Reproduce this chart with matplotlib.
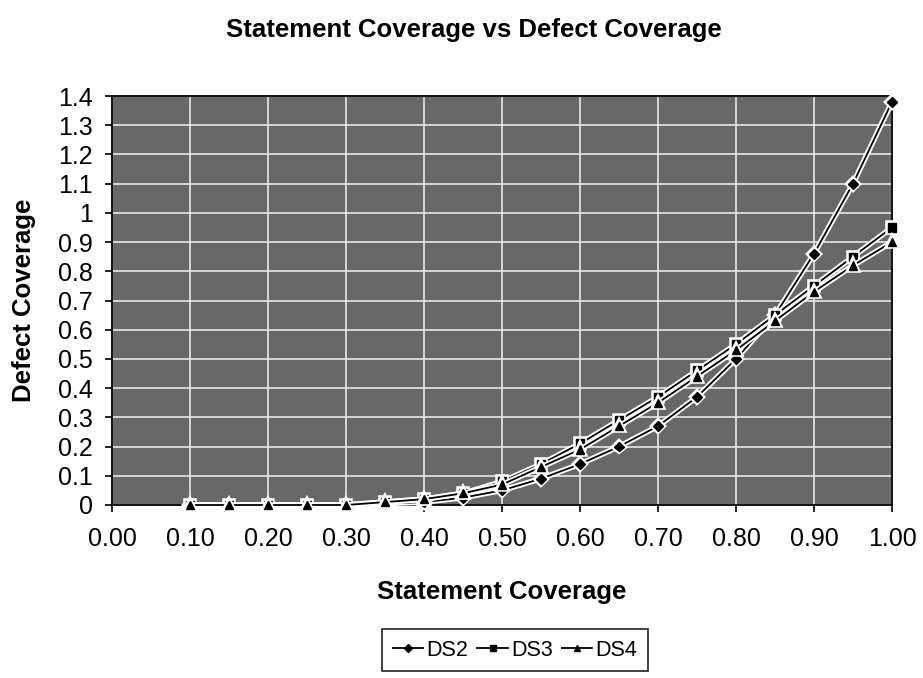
import matplotlib
matplotlib.use("Agg")
import matplotlib.pyplot as plt
import matplotlib.patheffects as pe
from matplotlib.ticker import FormatStrFormatter, FuncFormatter

plt.rcParams['font.family'] = ['Liberation Sans', 'DejaVu Sans']

x_vals = [0.10, 0.15, 0.20, 0.25, 0.30, 0.35, 0.40, 0.45, 0.50, 0.55,
          0.60, 0.65, 0.70, 0.75, 0.80, 0.85, 0.90, 0.95, 1.00]
ds2 = [0.00, 0.00, 0.00, 0.00, 0.00, 0.005, 0.01, 0.025, 0.05, 0.09,
       0.14, 0.20, 0.27, 0.37, 0.50, 0.65, 0.86, 1.10, 1.38]
ds3 = [0.00, 0.00, 0.00, 0.00, 0.00, 0.01, 0.02, 0.04, 0.08, 0.14,
       0.21, 0.29, 0.37, 0.46, 0.55, 0.65, 0.75, 0.85, 0.95]
ds4 = [0.00, 0.00, 0.00, 0.00, 0.00, 0.01, 0.02, 0.04, 0.07, 0.13,
       0.19, 0.27, 0.35, 0.44, 0.53, 0.63, 0.73, 0.82, 0.90]
series_names = ["DS2", "DS3", "DS4"]
x_ticks = [0.0, 0.1, 0.2, 0.3, 0.4, 0.5, 0.6, 0.7, 0.8, 0.9, 1.0]
y_ticks = [0.0, 0.1, 0.2, 0.3, 0.4, 0.5, 0.6, 0.7, 0.8, 0.9, 1.0, 1.1, 1.2, 1.3, 1.4]

W, H = 923, 678
fig = plt.figure(figsize=(W/100, H/100), dpi=100)
ax = fig.add_axes([112/W, 1-505/H, (892-112)/W, (505-96)/H])
ax.set_facecolor('#686868')

halo = [pe.Stroke(linewidth=4, foreground='white'), pe.Normal()]
markers = ['D', 's', '^']
for name, data, m in zip(series_names, [ds2, ds3, ds4], markers):
    ax.plot(x_vals, data, color='black', linewidth=1.3, marker=m,
            markersize=6 if m != 'D' else 5, markerfacecolor='black',
            markeredgecolor='black', label=name, clip_on=False,
            path_effects=halo, zorder=3)

ax.set_xlim(0, 1.0)
ax.set_ylim(0, 1.4)
ax.set_xticks(x_ticks)
ax.set_yticks(y_ticks)
ax.xaxis.set_major_formatter(FormatStrFormatter('%.2f'))
ax.yaxis.set_major_formatter(FuncFormatter(lambda v, p: f"{v:g}"))
ax.grid(True, color='#e8e8e8', linewidth=1.2, zorder=1)
ax.set_axisbelow(True)
for s in ax.spines.values():
    s.set_color('black')
    s.set_linewidth(1.3)
ax.tick_params(axis='both', direction='out', length=5, width=1.2, labelsize=18)
ax.tick_params(axis='x', pad=11)
ax.tick_params(axis='y', pad=9)

fig.text(502/W, 1-592/H, "Statement Coverage", ha='center', va='center',
         fontsize=18.5, fontweight='bold')
fig.text(24/W, 1-300/H, "Defect Coverage", ha='center', va='center',
         rotation=90, fontsize=18.5, fontweight='bold')
fig.text(474/W, 1-30/H, "Statement Coverage vs Defect Coverage",
         ha='center', va='center', fontsize=18.5, fontweight='bold')

leg = ax.legend(loc='center', bbox_to_anchor=(515/W, 1-650/H),
                bbox_transform=fig.transFigure, ncol=3, frameon=True,
                fontsize=15.5, handlelength=1.4, handletextpad=0.15,
                columnspacing=0.45, borderpad=0.5, borderaxespad=0,
                fancybox=False, markerscale=0.8)
leg.get_frame().set_edgecolor('black')
leg.get_frame().set_linewidth(1.3)
for line in leg.get_lines():
    line.set_path_effects([])

fig.savefig("out.png", dpi=100)
